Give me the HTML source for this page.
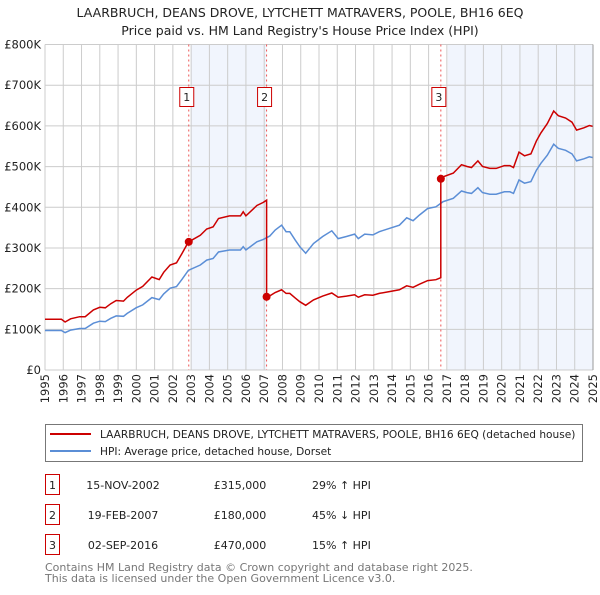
<!DOCTYPE html>
<html><head><meta charset="utf-8"><style>
body{margin:0;background:#fff;font-family:"Liberation Sans","DejaVu Sans",sans-serif;}
svg text{font-family:"DejaVu Sans","Liberation Sans",sans-serif;}
</style></head><body>
<svg id="chart" width="600" height="590" xmlns="http://www.w3.org/2000/svg">
<text x="300" y="17" text-anchor="middle" font-size="12.5" fill="#222">LAARBRUCH, DEANS DROVE, LYTCHETT MATRAVERS, POOLE, BH16 6EQ</text>
<text x="300" y="35" text-anchor="middle" font-size="12.5" fill="#222">Price paid vs. HM Land Registry's House Price Index (HPI)</text>
<g id="plot"></g>
<g>
<rect x="45.5" y="424.5" width="537" height="37" fill="#fff" stroke="#777"/>
<line x1="50" y1="434" x2="91" y2="434" stroke="#cc0000" stroke-width="2"/>
<text x="100" y="438" font-size="10.6" fill="#222">LAARBRUCH, DEANS DROVE, LYTCHETT MATRAVERS, POOLE, BH16 6EQ (detached house)</text>
<line x1="50" y1="451" x2="91" y2="451" stroke="#5b8ed6" stroke-width="2"/>
<text x="100" y="455" font-size="10.6" fill="#222">HPI: Average price, detached house, Dorset</text>
</g>
<g id="table" font-size="11" fill="#222"></g>
<text x="45" y="571" font-size="11" fill="#777">Contains HM Land Registry data © Crown copyright and database right 2025.</text>
<text x="45" y="582" font-size="11" fill="#777">This data is licensed under the Open Government Licence v3.0.</text>
</svg>
<script>
const hpiTimes=[1995,1995.55,1995.9,1996.1,1996.4,1996.9,1997.2,1997.65,1998,1998.3,1998.6,1998.9,1999.3,1999.5,2000,2000.35,2000.85,2001.25,2001.5,2001.85,2002.2,2002.5,2002.85,2003.5,2003.85,2004.2,2004.5,2005.1,2005.7,2005.85,2006,2006.6,2006.95,2007.3,2007.6,2007.95,2008.2,2008.4,2008.7,2008.95,2009.27,2009.7,2010.2,2010.7,2011.05,2011.5,2011.95,2012.15,2012.5,2012.95,2013.3,2013.85,2014.4,2014.8,2015.15,2015.5,2015.95,2016.4,2016.8,2017.35,2017.8,2018.1,2018.35,2018.7,2018.95,2019.35,2019.7,2020.15,2020.45,2020.65,2020.95,2021.25,2021.6,2021.9,2022.15,2022.5,2022.85,2023.1,2023.5,2023.85,2024.1,2024.5,2024.8,2025];
const hpiValues=[97,97,97,92,98,102,102,115,120,119,127,133,132,139,153,160,178,173,187,201,205,223,245,258,270,274,290,295,295,303,295,315,321,329,344,356,340,340,319,303,287,311,328,342,323,328,334,323,334,332,340,348,356,374,367,381,397,401,414,422,440,436,434,448,436,432,432,438,438,434,467,459,463,491,508,528,555,545,540,531,514,519,524,522];
const saleTimes=[2002.87,2007.13,2016.67];
const salePrices=[315,180,470];
const saleLabels=["1","2","3"];
const saleDates=["15-NOV-2002","19-FEB-2007","02-SEP-2016"];
const saleDiffs=["29% \u2191 HPI","45% \u2193 HPI","15% \u2191 HPI"];
const yTicks=[0,100,200,300,400,500,600,700,800];
const yTickLabels=["£0","£100K","£200K","£300K","£400K","£500K","£600K","£700K","£800K"];
const xTicks=[1995,1996,1997,1998,1999,2000,2001,2002,2003,2004,2005,2006,2007,2008,2009,2010,2011,2012,2013,2014,2015,2016,2017,2018,2019,2020,2021,2022,2023,2024,2025];
const shadeStarts=[2003.0,2017.05];
const shadeEnds=[2007.13,2025];

const L=45,R=593,T=44.5,B=370;
const xs=t=>L+(t-1995)/30*(R-L);
const ys=v=>B-v/800*(B-T);
const NS="http://www.w3.org/2000/svg";
const plot=document.getElementById('plot');
function mk(tag,attrs,parent){const e=document.createElementNS(NS,tag);for(const k in attrs)e.setAttribute(k,attrs[k]);(parent||plot).appendChild(e);return e;}
function hpiAt(t){for(let i=0;i<hpiTimes.length-1;i++){if(t<=hpiTimes[i+1]){const f=(t-hpiTimes[i])/(hpiTimes[i+1]-hpiTimes[i]);return hpiValues[i]+f*(hpiValues[i+1]-hpiValues[i]);}}return hpiValues[hpiValues.length-1];}

for(let i=0;i<shadeStarts.length;i++){
 const r=mk('rect',{x:xs(shadeStarts[i]),y:T,width:xs(shadeEnds[i])-xs(shadeStarts[i]),height:B-T,fill:'#eef3fc',opacity:0.8});
 
 
}
yTicks.forEach((v,i)=>{
 const g=mk('line',{x1:L,x2:R,y1:ys(v),y2:ys(v),stroke:'#cccccc','stroke-width':1});
 
 
 const t=mk('text',{x:L-4,y:ys(v)+4,'text-anchor':'end','font-size':11.5,fill:'#222'});
 t.textContent=yTickLabels[i];
 
 
});
xTicks.forEach(yr=>{
 const g=mk('line',{x1:xs(yr),x2:xs(yr),y1:T,y2:B,stroke:'#cccccc','stroke-width':1});
 
 
 const t=mk('text',{transform:`translate(${xs(yr)+4},374) rotate(-90)`,'text-anchor':'end','font-size':11.5,fill:'#222'});
 t.textContent=yr;
 
 
});
saleTimes.forEach((st,i)=>{
 const l=mk('line',{x1:xs(st),x2:xs(st),y1:T,y2:B,stroke:'#ee5555','stroke-width':1,'stroke-dasharray':'2,3'});
 
 
 const bx=mk('rect',{x:xs(st)-9,y:87.5,width:14,height:19,fill:'#fff',stroke:'#cc0000'});
 
 
 const tx=mk('text',{x:xs(st)-2,y:101,'text-anchor':'middle','font-size':11,fill:'#222'});
 tx.textContent=saleLabels[i];
 
 
});
let d='';hpiTimes.forEach((t,i)=>{d+=(i?'L':'M')+xs(t).toFixed(1)+','+ys(hpiValues[i]).toFixed(1);});
const hl=mk('path',{d:d,fill:'none',stroke:'#5b8ed6','stroke-width':1.5});


const ratios=saleTimes.map((t,i)=>salePrices[i]/hpiAt(t));
const pts=[];
const allT=hpiTimes.concat(saleTimes).sort((a,b)=>a-b);
allT.forEach(t=>{
 if(saleTimes.includes(t)){const k=saleTimes.indexOf(t);const prev=k>0?ratios[k-1]:ratios[0];pts.push([t,hpiAt(t)*prev]);pts.push([t,salePrices[k]]);return;}
 let k=0;for(let j=0;j<saleTimes.length;j++)if(t>=saleTimes[j])k=j;
 pts.push([t,hpiAt(t)*ratios[k]]);
});
let d2='';pts.forEach((p,i)=>{d2+=(i?'L':'M')+xs(p[0]).toFixed(1)+','+ys(p[1]).toFixed(1);});
const rl=mk('path',{d:d2,fill:'none',stroke:'#cc0000','stroke-width':1.5});


saleTimes.forEach((st,i)=>{
 const c=mk('circle',{cx:xs(st),cy:ys(salePrices[i]),r:4,fill:'#cc0000'});
 
 
});
const ax=mk('line',{x1:R,x2:R,y1:T,y2:B,stroke:'#999','stroke-width':1});


const tb=document.getElementById('table');
saleTimes.forEach((st,i)=>{
 const y=487+i*30;
 const bx=mk('rect',{x:45.5,y:y-12.5,width:14,height:20,fill:'#fff',stroke:'#cc0000'},tb);
 
 
 const n=mk('text',{x:52.5,y:y+2,'text-anchor':'middle'},tb);n.textContent=saleLabels[i];
 
 
 const a=mk('text',{x:123,y:y+2,'text-anchor':'middle'},tb);a.textContent=saleDates[i];
 
 
 const p=mk('text',{x:240,y:y+2,'text-anchor':'middle'},tb);p.textContent='£'+salePrices[i]+',000';
 
 
 const h=mk('text',{x:312,y:y+2},tb);h.textContent=saleDiffs[i];
 
 
});
</script>
</body></html>
